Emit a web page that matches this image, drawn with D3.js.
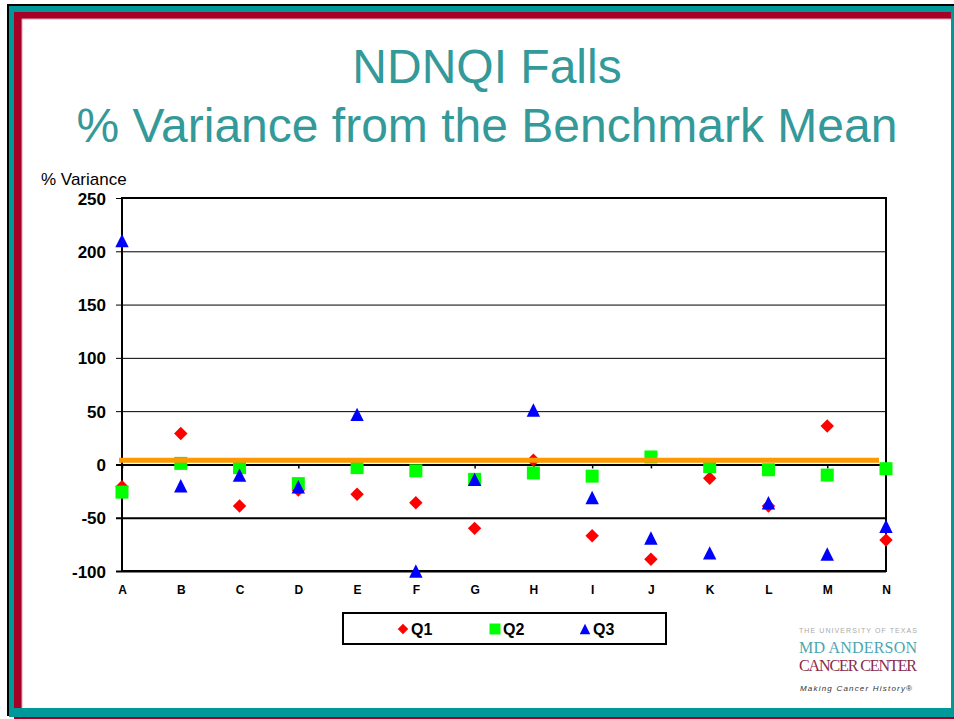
<html><head>
<meta charset="utf-8">
<script src="https://cdnjs.cloudflare.com/ajax/libs/d3/7.8.5/d3.min.js"></script>
<style>
  body { margin: 0; background: #fff; }
  svg { display: block; font-family: Arial, "Liberation Sans", sans-serif; }
</style>
</head>
<body>
<script>
// data
var units = ["A","B","C","D","E","F","G","H","I","J","K","L","M","N"];
var q1 = [-21, 29, -39, -24, -28, -36, -60, 4, -67, -89, -13, -39, 36, -71];
var q2 = [-26, 1, -3, -18, -3, -6, -14, -8, -11, 7, -2, -5, -10, -4];
var q3 = [210, -20, -10, -21, 47, -100, -14, 51, -31, -69, -83, -36, -84, -58];
var benchmark = 4;
var yTicks = [-100, -50, 0, 50, 100, 150, 200, 250];

var W = 954, H = 719;
var svg = d3.select("body").append("svg").attr("width", W).attr("height", H);

// slide frame
var teal = "#009999", red = "#A50026";
svg.append("rect").attr("x", 7).attr("y", 4).attr("width", 947).attr("height", 2).attr("fill", "#000");
svg.append("rect").attr("x", 7).attr("y", 4).attr("width", 2).attr("height", 712).attr("fill", "#000");
svg.append("rect").attr("x", 9).attr("y", 6).attr("width", 945).attr("height", 6).attr("fill", teal);
svg.append("rect").attr("x", 9).attr("y", 6).attr("width", 5).attr("height", 711).attr("fill", teal);
svg.append("rect").attr("x", 9).attr("y", 708).attr("width", 945).attr("height", 9).attr("fill", teal);
svg.append("rect").attr("x", 951).attr("y", 6).attr("width", 3).attr("height", 711).attr("fill", teal);
svg.append("rect").attr("x", 14).attr("y", 12).attr("width", 937).attr("height", 7).attr("fill", red);
svg.append("rect").attr("x", 14).attr("y", 12).attr("width", 8).attr("height", 696).attr("fill", red);
svg.append("rect").attr("x", 14).attr("y", 717).attr("width", 940).attr("height", 2).attr("fill", red);
svg.append("rect").attr("x", 22).attr("y", 18.5).attr("width", 929).attr("height", 1).attr("fill", "#e9a3b3");
svg.append("rect").attr("x", 21.5).attr("y", 19).attr("width", 1).attr("height", 689).attr("fill", "#e9a3b3");

// title
var title = svg.append("text").attr("text-anchor", "middle").attr("fill", "#339999")
  .style("font-size", "48px");
title.append("tspan").attr("x", 487).attr("y", 83).text("NDNQI Falls");
title.append("tspan").attr("x", 487).attr("y", 142).text("% Variance from the Benchmark Mean");

// scales
var plotL = 122, plotR = 886, plotT = 198, plotB = 571;
var x = d3.scalePoint().domain(units).range([plotL, plotR]);
var y = d3.scaleLinear().domain([-100, 250]).range([plotB, plotT]);

svg.append("text").attr("x", 41).attr("y", 185).style("font-size", "17px").attr("fill", "#000")
  .text("% Variance");

// y axis with gridlines
var yAxis = svg.append("g").attr("transform", "translate(" + plotR + ",0)")
  .call(d3.axisLeft(y).tickValues(yTicks).tickFormat(function(d) { return String(d); })
    .tickSize(plotR - plotL + 6).tickSizeOuter(0).tickPadding(10));
yAxis.select(".domain").remove();
yAxis.selectAll("line").attr("stroke", "#000")
  .attr("stroke-width", function(d) { return d <= 0 ? 2 : 1; });
yAxis.selectAll("text").style("font-size", "17px").style("font-weight", "bold").attr("fill", "#000")
  .attr("dy", "0.36em");

// tick marks on the zero line
var zAxis = svg.append("g").attr("transform", "translate(0," + y(0) + ")")
  .call(d3.axisBottom(x).tickSize(4).tickSizeOuter(0));
zAxis.select(".domain").remove();
zAxis.selectAll("text").remove();
zAxis.selectAll("line").attr("stroke", "#000").attr("stroke-width", 1.5);

// category labels
var xAxis = svg.append("g").attr("transform", "translate(0," + plotB + ")")
  .call(d3.axisBottom(x).tickSize(0).tickPadding(14));
xAxis.select(".domain").remove();
xAxis.selectAll("text").style("font-size", "12px").style("font-weight", "bold").attr("fill", "#000");

// plot frame
svg.append("rect").attr("x", plotL).attr("y", plotT).attr("width", plotR - plotL).attr("height", plotB - plotT)
  .attr("fill", "none").attr("stroke", "#000").attr("stroke-width", 2);

// marker shapes
var tri = { draw: function(ctx, size) {
  var s = Math.sqrt(size) / 2;
  ctx.moveTo(0, -s); ctx.lineTo(s, s); ctx.lineTo(-s, s); ctx.closePath();
} };
var diamond = { draw: function(ctx, size) {
  var s = Math.sqrt(size) / 2;
  ctx.moveTo(0, -s); ctx.lineTo(s, 0); ctx.lineTo(0, s); ctx.lineTo(-s, 0); ctx.closePath();
} };
var sq = { draw: function(ctx, size) {
  var s = Math.sqrt(size) / 2;
  ctx.rect(-s, -s, 2 * s, 2 * s);
} };

var series = [
  { name: "Q1", values: q1, color: "#FF0000", type: diamond },
  { name: "Q2", values: q2, color: "#00FF00", type: sq },
  { name: "Q3", values: q3, color: "#0000FF", type: tri }
];

series.forEach(function(s) {
  svg.append("g").selectAll("path").data(s.values).enter().append("path")
    .attr("transform", function(d, i) { return "translate(" + x(units[i]) + "," + y(d) + ")"; })
    .attr("d", d3.symbol().type(s.type).size(s.type === sq ? 169 : 180))
    .attr("fill", s.color);
});

// benchmark line
svg.append("line").attr("x1", plotL - 3).attr("x2", plotR - 7)
  .attr("y1", y(benchmark)).attr("y2", y(benchmark))
  .attr("stroke", "#FF9900").attr("stroke-width", 5);

// legend
svg.append("rect").attr("x", 343).attr("y", 613).attr("width", 323).attr("height", 31)
  .attr("fill", "#fff").attr("stroke", "#000").attr("stroke-width", 2);
var legX = [403, 495, 585];
series.forEach(function(s, i) {
  svg.append("path").attr("transform", "translate(" + legX[i] + ",629)")
    .attr("d", d3.symbol().type(s.type).size(s.type === sq ? 121 : 110)).attr("fill", s.color);
  svg.append("text").attr("x", legX[i] + 8).attr("y", 635).style("font-size", "16px")
    .style("font-weight", "bold").attr("fill", "#000").text(s.name);
});

// logo
var logo = svg.append("g").attr("text-anchor", "middle");
logo.append("text").attr("x", 858).attr("y", 633).style("font-size", "7px").attr("fill", "#aaa")
  .attr("textLength", 118).text("THE UNIVERSITY OF TEXAS");
logo.append("text").attr("x", 858).attr("y", 653).style("font-size", "16px").style("font-family", "'Liberation Serif', serif")
  .attr("fill", "#4aa7b0").attr("textLength", 118).text("MD ANDERSON");
logo.append("text").attr("x", 858).attr("y", 671).style("font-size", "16px").style("font-family", "'Liberation Serif', serif")
  .attr("fill", "#8a2a4a").attr("textLength", 118).text("CANCER CENTER");
logo.append("text").attr("x", 856).attr("y", 691).style("font-size", "8px").style("font-style", "italic")
  .attr("fill", "#333").attr("textLength", 112).text("Making Cancer History\u00AE");
</script>
</body></html>
